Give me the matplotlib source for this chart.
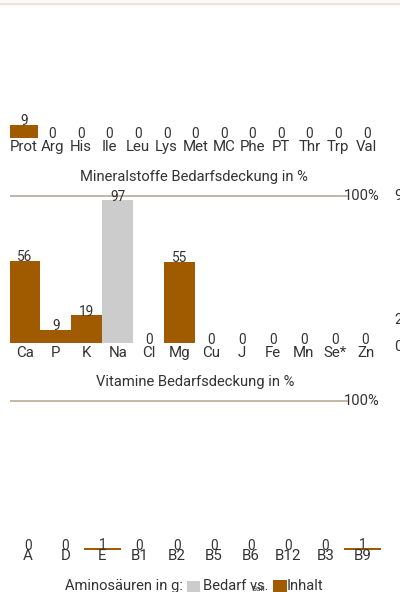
import matplotlib
matplotlib.use("Agg")
import matplotlib.pyplot as plt
from matplotlib.patches import Rectangle

plt.rcParams['font.family'] = ['Roboto', 'DejaVu Sans']

# ----------------------------
# DATA
# ----------------------------
amino_labels = ["Prot", "Arg", "His", "Ile", "Leu", "Lys", "Met", "MC",
                "Phe", "PT", "Thr", "Trp", "Val"]
amino_inhalt = [9, 0, 0, 0, 0, 0, 0, 0, 0, 0, 0, 0, 0]

mineral_labels = ["Ca", "P", "K", "Na", "Cl", "Mg", "Cu", "J", "Fe", "Mn", "Se*", "Zn"]
mineral_inhalt = [56, 9, 19, 0, 0, 55, 0, 0, 0, 0, 0, 0]
mineral_bedarf = [0, 0, 0, 97, 0, 0, 0, 0, 0, 0, 0, 0]

vitamin_labels = ["A", "D", "E", "B1", "B2", "B5", "B6", "B12", "B3", "B9"]
vitamin_inhalt = [0, 0, 1, 0, 0, 0, 0, 0, 0, 1]

BROWN = "#a05a00"
GRAY = "#cccccc"
LINE = "#b5a38c"
TXT = "#333333"
FS = 10.6      # titles / legend
FS_LAB = 10.8  # category labels
FS_VAL = 9.8   # value labels

W, H = 400, 592
fig = plt.figure(figsize=(W / 100, H / 100), dpi=100)
fig.patch.set_facecolor("white")

# top band
fig.patches.append(Rectangle((0, 1 - 6 / H), 1, 6 / H, transform=fig.transFigure,
                             facecolor="#fcf8f4", edgecolor="none"))
fig.lines.append(plt.Line2D([0, 1], [1 - 4 / H, 1 - 4 / H], transform=fig.transFigure,
                            color="#ecdfdb", lw=1.2))


def make_ax(x0, x1, y_base, px_per_unit, ymax):
    h = ymax * px_per_unit
    ax = fig.add_axes([x0 / W, 1 - y_base / H, (x1 - x0) / W, h / H])
    ax.set_ylim(0, ymax)
    ax.axis("off")
    return ax


def draw_chart(ax, labels, inhalt, bedarf, val_off, lab_off, full_line):
    # val_off / lab_off: pixel offsets of the text baselines from bar top / axis base
    n = len(labels)
    xs = list(range(n))
    ax.set_xlim(-0.5, n - 0.5)
    vals = []
    for i in xs:
        b = bedarf[i] if bedarf else 0
        if b > 0:
            ax.bar(i, b, width=1.0, color=GRAY, linewidth=0)
        if inhalt[i] > 0:
            ax.bar(i, inhalt[i], width=1.0, color=BROWN, linewidth=0)
        vals.append(max(inhalt[i], b))
    for i in xs:
        ax.annotate(str(vals[i]), xy=(i, vals[i]), xytext=(0, val_off * 0.72),
                    textcoords="offset points", ha="center", va="baseline",
                    fontsize=FS_VAL, color=TXT, annotation_clip=False)
        ax.annotate(labels[i], xy=(i, 0), xytext=(0, -lab_off * 0.72),
                    textcoords="offset points", ha="center", va="baseline",
                    fontsize=FS_LAB, color=TXT, annotation_clip=False)
    if full_line:
        ax.plot([-0.5, -0.5 + n * 0.908], [100, 100], color=LINE, lw=1.1)
        ax.text(n - 0.5 - n * 0.005, 100, "100%", ha="right", va="center",
                fontsize=FS, color=TXT)


# amino acids
ax1 = make_ax(9.5, 381, 137.5, 1.39, 60)
draw_chart(ax1, amino_labels, amino_inhalt, None, 0, 13.5, False)

# minerals
fig.text(194 / W, 1 - 177 / H, "Mineralstoffe Bedarfsdeckung in %", ha="center",
         va="center", fontsize=FS, color=TXT)
ax2 = make_ax(9.5, 381, 343, 1.473, 110)
draw_chart(ax2, mineral_labels, mineral_inhalt, mineral_bedarf, -0.5, 14, True)

# clipped texts at right edge
for yy, t in [(196, "9"), (320, "2"), (347, "0")]:
    fig.text(394 / W, 1 - yy / H, t, ha="left", va="center", fontsize=FS, color=TXT)

# vitamins
fig.text(195 / W, 1 - 382 / H, "Vitamine Bedarfsdeckung in %", ha="center",
         va="center", fontsize=FS, color=TXT)
ax3 = make_ax(9.5, 381, 549.5, 1.485, 110)
draw_chart(ax3, vitamin_labels, vitamin_inhalt, None, -0.5, 10.5, True)

# legend
ly = 1 - 586 / H
fig.text(65 / W, ly, "Aminosäuren in g:", ha="left", va="center", fontsize=FS, color=TXT)
fig.patches.append(Rectangle((187 / W, 0), 13 / W, 11 / H, transform=fig.transFigure,
                             facecolor=GRAY, edgecolor="none"))
fig.text(203 / W, ly, "Bedarf vs.", ha="left", va="center", fontsize=FS, color=TXT)
fig.text(252 / W, 1 - 589 / H, "Soll", ha="left", va="center", fontsize=6, color=TXT)
fig.patches.append(Rectangle((273 / W, 0), 14 / W, 12 / H, transform=fig.transFigure,
                             facecolor=BROWN, edgecolor="none"))
fig.text(287 / W, ly, "Inhalt", ha="left", va="center", fontsize=FS, color=TXT)

fig.savefig("out.png", dpi=100)
